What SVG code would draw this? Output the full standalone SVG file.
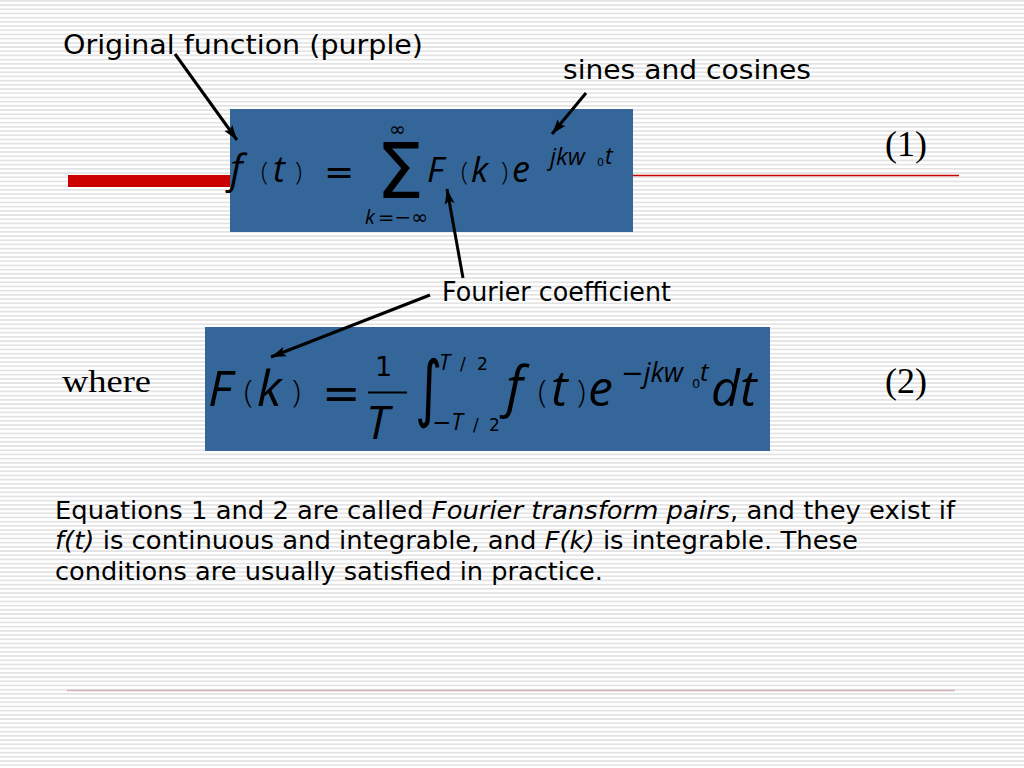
<svg xmlns="http://www.w3.org/2000/svg" width="1024" height="768" viewBox="0 0 1024 768">
<defs>
<pattern id="stripes" width="8" height="4.2" patternUnits="userSpaceOnUse">
<rect x="0" y="0" width="8" height="1.7" fill="#e3e3e3"/>
</pattern>
<marker id="ah" markerUnits="userSpaceOnUse" markerWidth="16" markerHeight="12" refX="15" refY="6" orient="auto">
<path d="M0,1 L15,6 L0,11 L3,6 z" fill="#000"/>
</marker>
<style>
.lbl{font-family:"DejaVu Sans","Noto Sans",sans-serif;font-size:26px;fill:#000}
.para{font-family:"DejaVu Sans","Noto Sans",sans-serif;font-size:25px;fill:#000}
.ser{font-family:"Liberation Serif","Times New Roman",serif;fill:#000}
.mi{font-family:"Open Sans","Noto Sans",sans-serif;font-style:italic;fill:#000}
.mu{font-family:"DejaVu Sans","Noto Sans",sans-serif;fill:#000}
.par{font-family:"Open Sans","Noto Sans",sans-serif;font-weight:300;fill:#000}
.box{fill:#35669a}
.arr{stroke:#000;stroke-width:3;fill:none;marker-end:url(#ah)}
</style>
</defs>
<rect width="1024" height="768" fill="#fff"/>
<rect width="1024" height="768" fill="url(#stripes)"/>
<g id="decor">
<rect x="68" y="175" width="162" height="12" fill="#cc0000"/>
<line x1="630" y1="175.5" x2="959" y2="175.5" stroke="#cc0000" stroke-width="1.5"/>
<line x1="67" y1="690.5" x2="955" y2="690.5" stroke="#d2b2b2" stroke-width="1.5"/>
</g>
<g id="eq1">
<rect class="box" x="230" y="109" width="403" height="123"/>
<text class="mi" x="230" y="183" font-size="40">f</text>
<text class="par" x="261" y="180" font-size="26">(</text>
<text class="mi" x="273" y="182" font-size="36">t</text>
<text class="par" x="295" y="180" font-size="26">)</text>
<text class="mu" x="324" y="184" font-size="36">=</text>
<text class="mu" x="376" y="198" font-size="76">Σ</text>
<text class="mu" x="389" y="136" font-size="20">∞</text>
<text x="365" y="224" font-size="20"><tspan class="mi">k</tspan><tspan class="mu" dx="3">=−∞</tspan></text>
<text class="mi" x="427" y="182" font-size="35">F</text>
<text class="par" x="461" y="180" font-size="26">(</text>
<text class="mi" x="471" y="182" font-size="35">k</text>
<text class="par" x="501" y="180" font-size="26">)</text>
<text class="mi" x="512" y="182" font-size="36">e</text>
<text class="mi" x="550" y="165" font-size="24">jkw</text>
<text class="mu" x="597" y="166" font-size="11">0</text>
<text class="mi" x="605" y="164" font-size="23">t</text>
</g>
<g id="eq2">
<rect class="box" x="205" y="327" width="565" height="124"/>
<text class="mi" x="208" y="406" font-size="50">F</text>
<text class="par" x="244" y="402" font-size="32">(</text>
<text class="mi" x="257" y="406" font-size="50">k</text>
<text class="par" x="292" y="402" font-size="32">)</text>
<text class="mu" x="322" y="409" font-size="46">=</text>
<text class="mu" x="375" y="376" font-size="27">1</text>
<line x1="368" y1="392.5" x2="407" y2="392.5" stroke="#000" stroke-width="2"/>
<text class="mi" x="366" y="439" font-size="46">T</text>
<text class="mu" x="415" y="413" font-size="73" transform="translate(415 413) scale(0.72 1) translate(-415 -413)">∫</text>
<text class="mi" x="439" y="370" font-size="22">T</text>
<text class="mu" x="460" y="370" font-size="17">/</text>
<text class="mu" x="477" y="370" font-size="17">2</text>
<text x="432" y="430" font-size="23"><tspan class="mu">−</tspan><tspan class="mi">T</tspan></text>
<text class="mu" x="473" y="431" font-size="17">/</text>
<text class="mu" x="489" y="431" font-size="17">2</text>
<text class="mi" x="506" y="406" font-size="54">f</text>
<text class="par" x="538" y="402" font-size="32">(</text>
<text class="mi" x="551" y="406" font-size="50">t</text>
<text class="par" x="577" y="402" font-size="32">)</text>
<text class="mi" x="588" y="406" font-size="50">e</text>
<text x="621" y="382" font-size="27"><tspan class="mu">−</tspan><tspan class="mi">jkw</tspan></text>
<text class="mu" x="692" y="388" font-size="13">0</text>
<text class="mi" x="700" y="381" font-size="26">t</text>
<text class="mi" x="711" y="406" font-size="50">dt</text>
</g>
<g id="labels">
<text class="lbl" x="63" y="54" textLength="360" lengthAdjust="spacingAndGlyphs">Original function (purple)</text>
<text class="lbl" x="563" y="79" textLength="248" lengthAdjust="spacingAndGlyphs">sines and cosines</text>
<text class="lbl" x="442" y="301" textLength="229" lengthAdjust="spacingAndGlyphs">Fourier coefficient</text>
<text class="ser" x="62" y="392" font-size="32" textLength="89" lengthAdjust="spacingAndGlyphs">where</text>
<text class="ser" x="885" y="156" font-size="36">(1)</text>
<text class="ser" x="885" y="393" font-size="36">(2)</text>
</g>
<g id="paragraph">
<text class="para" x="55" y="519" textLength="900" lengthAdjust="spacingAndGlyphs">Equations 1 and 2 are called <tspan font-style="italic">Fourier transform pairs</tspan>, and they exist if</text>
<text class="para" x="55" y="549" textLength="803" lengthAdjust="spacingAndGlyphs"><tspan font-style="italic">f(t)</tspan> is continuous and integrable, and <tspan font-style="italic">F(k)</tspan> is integrable. These</text>
<text class="para" x="55" y="580" textLength="548" lengthAdjust="spacingAndGlyphs">conditions are usually satisfied in practice.</text>
</g>
<g id="connectors">
<line class="arr" x1="175" y1="54" x2="237" y2="140"/>
<line class="arr" x1="586" y1="93" x2="552" y2="134"/>
<line class="arr" x1="463" y1="278" x2="447" y2="189"/>
<line class="arr" x1="430" y1="295" x2="271" y2="357"/>
</g>
</svg>
